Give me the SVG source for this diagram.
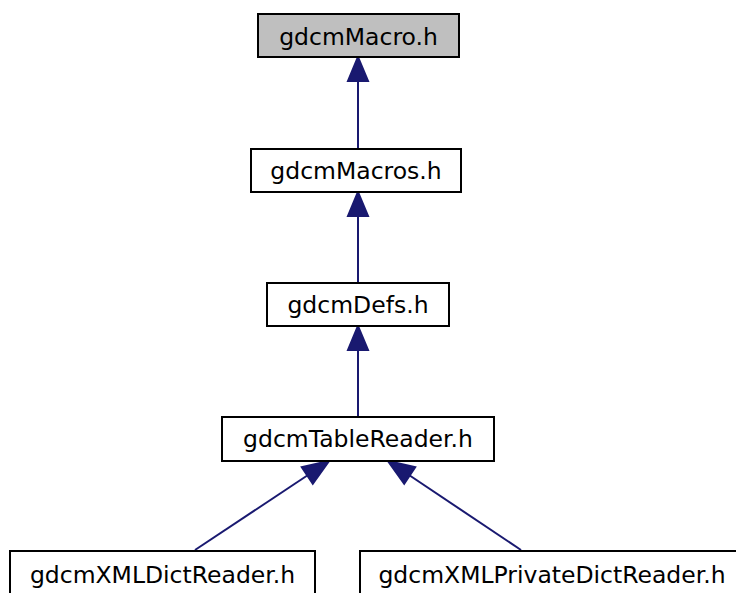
<svg xmlns="http://www.w3.org/2000/svg" width="736" height="593" viewBox="0 0 736 593">
<style>
  .node rect { fill: #ffffff; stroke: #000000; stroke-width: 2; }
  .node.hl rect { fill: #bfbfbf; }
  .node text { font-family: "DejaVu Sans", sans-serif; font-size: 23.5px; fill: #000000; text-anchor: middle; }
  .edge line { stroke: #191970; stroke-width: 2; fill: none; }
  .edge polygon { fill: #191970; stroke: #191970; stroke-width: 2; }
</style>
<rect width="736" height="593" fill="#ffffff"/>
<g id="connectors">
  <g class="edge"><line x1="358" y1="81" x2="358" y2="149"/><polygon points="358,57 348,81 368,81"/></g>
  <g class="edge"><line x1="358" y1="216" x2="358" y2="283"/><polygon points="358,192 348,216 368,216"/></g>
  <g class="edge"><line x1="358" y1="350" x2="358" y2="417"/><polygon points="358,326 348,350 368,350"/></g>
  <g class="edge"><line x1="195" y1="550" x2="308" y2="475"/><polygon points="329,461 301.8,467.1 312.8,483.7"/></g>
  <g class="edge"><line x1="521" y1="550" x2="409" y2="475"/><polygon points="388,461 415.2,467.1 404.2,483.7"/></g>
</g>
<g id="node-gdcmMacro" class="node hl"><rect x="258" y="14" width="201" height="43"/><text x="358.5" y="45">gdcmMacro.h</text></g>
<g id="node-gdcmMacros" class="node"><rect x="251" y="149" width="210" height="43"/><text x="356" y="179">gdcmMacros.h</text></g>
<g id="node-gdcmDefs" class="node"><rect x="267" y="283" width="182" height="43"/><text x="358" y="313">gdcmDefs.h</text></g>
<g id="node-gdcmTableReader" class="node"><rect x="222" y="417" width="272" height="44"/><text x="358" y="447">gdcmTableReader.h</text></g>
<g id="node-gdcmXMLDictReader" class="node"><rect x="10" y="551" width="305" height="50"/><text x="162.5" y="583">gdcmXMLDictReader.h</text></g>
<g id="node-gdcmXMLPrivateDictReader" class="node"><rect x="360" y="551" width="384" height="50"/><text x="552" y="583">gdcmXMLPrivateDictReader.h</text></g>
</svg>
